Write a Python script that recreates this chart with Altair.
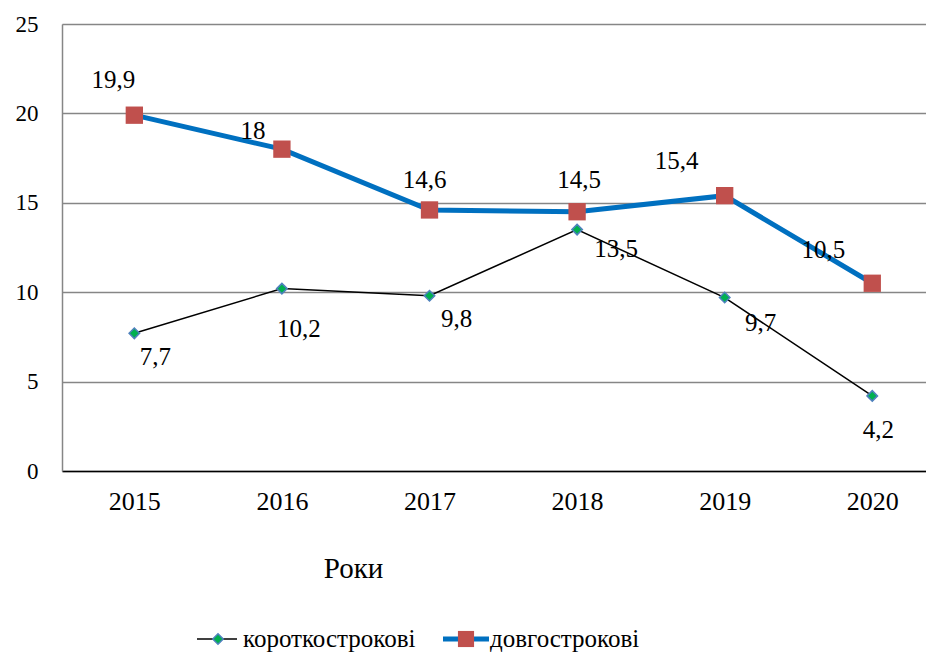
import altair as alt
import pandas as pd

years = [2015, 2016, 2017, 2018, 2019, 2020]
short_term = [7.7, 10.2, 9.8, 13.5, 9.7, 4.2]
long_term = [19.9, 18.0, 14.6, 14.5, 15.4, 10.5]
series_names = ["короткострокові", "довгострокові"]
y_ticks = [0, 5, 10, 15, 20, 25]

def fmt(v):
    s = ("%g" % v)
    return s.replace(".", ",")

rows = []
for i, y in enumerate(years):
    rows.append({"year": y, "value": short_term[i], "series": series_names[0], "label": fmt(short_term[i]), "idx": i})
    rows.append({"year": y, "value": long_term[i], "series": series_names[1], "label": fmt(long_term[i]), "idx": i})
df = pd.DataFrame(rows)

# label offsets (style, not data)
short_off = [(21, 24), (17, 40), (27, 23), (39, 19), (36, 25), (6, 34)]
long_off = [(-21, -35), (-29, -18), (-5, -30), (2, -32), (-48, -35), (-49, -33)]

FONT = "'Times New Roman', 'Liberation Serif', 'DejaVu Serif', serif"
W, H = 864, 447

x_enc = alt.X("year:Q", scale=alt.Scale(domain=[2014.51, 2020.364], nice=False, zero=False),
              axis=alt.Axis(values=years, format="d", grid=False, ticks=False,
                            domainColor="black", domainWidth=1.5,
                            labelFont=FONT, labelFontSize=26, labelColor="black", labelPadding=17,
                            title="Роки", titleFont=FONT, titleFontSize=29, titleFontWeight="normal",
                            titleColor="black", titleX=291, titleY=97, titleBaseline="middle",
                            titleAlign="center"))
y_enc = alt.Y("value:Q", scale=alt.Scale(domain=[0, 25], nice=False),
              axis=alt.Axis(values=y_ticks, grid=True, ticks=False, gridColor="#868686", gridWidth=1.5,
                            domainColor="#868686", domainWidth=1.5,
                            labelFont=FONT, labelFontSize=23, labelColor="black", labelPadding=24,
                            title=None))

base = alt.Chart(df)

short_df = base.transform_filter(alt.datum.series == series_names[0])
long_df = base.transform_filter(alt.datum.series == series_names[1])

short_line = short_df.mark_line(color="black", strokeWidth=1.5).encode(x=x_enc, y=y_enc)
short_pts = short_df.mark_point(shape="diamond", size=110, filled=True, fill="#00B050",
                                stroke="#4F81BD", strokeWidth=1.5, opacity=1).encode(x="year:Q", y="value:Q")
long_line = long_df.mark_line(color="#0070C0", strokeWidth=5).encode(x="year:Q", y="value:Q")
long_pts = long_df.mark_point(shape="square", size=300, filled=True, fill="#C0504D",
                              opacity=1).encode(x="year:Q", y="value:Q")

labels = []
for i, (dx, dy) in enumerate(short_off):
    labels.append(short_df.transform_filter(alt.datum.idx == i).mark_text(
        font=FONT, fontSize=25, color="black", dx=dx, dy=dy, align="center", baseline="middle"
    ).encode(x="year:Q", y="value:Q", text="label:N"))
for i, (dx, dy) in enumerate(long_off):
    labels.append(long_df.transform_filter(alt.datum.idx == i).mark_text(
        font=FONT, fontSize=25, color="black", dx=dx, dy=dy, align="center", baseline="middle"
    ).encode(x="year:Q", y="value:Q", text="label:N"))

# manual legend below the plot
leg_data = alt.Data(values=[{"k": 1}])
LY = 615
leg = [
    alt.Chart(leg_data).mark_rule(color="black", strokeWidth=1.5).encode(
        x=alt.value(135), x2=alt.value(175), y=alt.value(LY)),
    alt.Chart(leg_data).mark_point(shape="diamond", size=110, filled=True, fill="#00B050",
                                   stroke="#4F81BD", strokeWidth=1.5, opacity=1).encode(
        x=alt.value(156), y=alt.value(LY)),
    alt.Chart(leg_data).mark_text(font=FONT, fontSize=25, color="black", align="left",
                                  baseline="middle").encode(
        x=alt.value(181), y=alt.value(LY), text=alt.value(series_names[0])),
    alt.Chart(leg_data).mark_rule(color="#0070C0", strokeWidth=5).encode(
        x=alt.value(381), x2=alt.value(427), y=alt.value(LY)),
    alt.Chart(leg_data).mark_point(shape="square", size=260, filled=True, fill="#C0504D",
                                   opacity=1).encode(x=alt.value(404), y=alt.value(LY)),
    alt.Chart(leg_data).mark_text(font=FONT, fontSize=25, color="black", align="left",
                                  baseline="middle").encode(
        x=alt.value(428), y=alt.value(LY), text=alt.value(series_names[1])),
]

chart = alt.layer(short_line, long_line, short_pts, long_pts, *labels, *leg).properties(
    width=W, height=H,
    padding={"left": 54, "top": 16, "right": 0, "bottom": 185},
    autosize=alt.AutoSizeParams(type="none"),
).configure_view(stroke=None).configure(background="white")

chart.save("out.html", embed_options={"renderer": "svg", "actions": False})
